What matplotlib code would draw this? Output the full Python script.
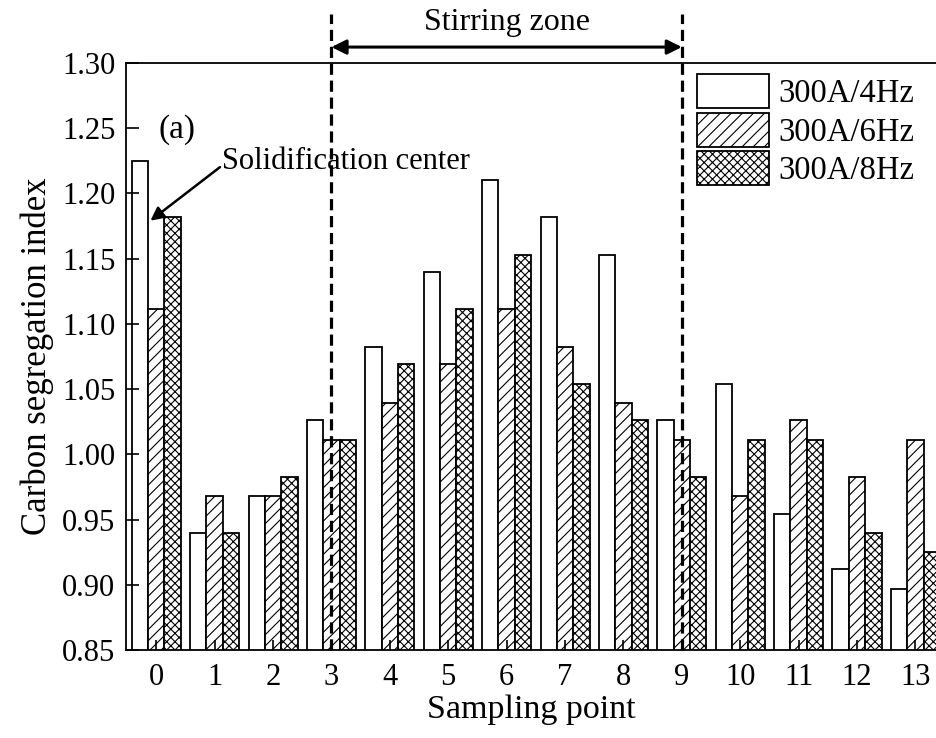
import matplotlib as mpl
import matplotlib.pyplot as plt
import numpy as np

mpl.use("Agg")

# sampling points and carbon segregation index per stirring setting
points = list(range(14))
labels = ["300A/4Hz", "300A/6Hz", "300A/8Hz"]
seg_4hz = [1.225, 0.940, 0.968, 1.026, 1.082, 1.140, 1.210, 1.182, 1.153, 1.026, 1.054, 0.954, 0.912, 0.897]
seg_6hz = [1.111, 0.968, 0.968, 1.011, 1.039, 1.069, 1.111, 1.082, 1.039, 1.011, 0.968, 1.026, 0.983, 1.011]
seg_8hz = [1.182, 0.940, 0.983, 1.011, 1.069, 1.111, 1.153, 1.054, 1.026, 0.983, 1.011, 1.011, 0.940, 0.925]
yticks = [0.85, 0.90, 0.95, 1.00, 1.05, 1.10, 1.15, 1.20, 1.25, 1.30]
zone_start, zone_end = 3, 9

plt.rcParams["font.family"] = ["Liberation Serif", "DejaVu Serif"]
plt.rcParams["hatch.linewidth"] = 0.8

fig = plt.figure(figsize=(9.37, 7.38), dpi=100)
ax = fig.add_axes([0.135, 0.119, 0.865, 0.796])

x = np.arange(len(points))
w = 0.28
style = dict(edgecolor="black", linewidth=1.3)
ax.bar(x - w, seg_4hz, w, color="white", label=labels[0], **style)
ax.bar(x, seg_6hz, w, color="white", hatch="///", label=labels[1], **style)
ax.bar(x + w, seg_8hz, w, color="white", hatch="xxxx", label=labels[2], **style)

ax.set_xlim(-0.51, 13.37)
ax.set_ylim(0.85, 1.30)
ax.set_yticks(yticks)
ax.set_yticklabels([f"{v:.2f}" for v in yticks])
ax.set_xticks(x)
ax.set_xticklabels([str(p) for p in points])
ax.tick_params(axis="y", direction="in", length=9, width=1.2, labelsize=22, pad=8)
ax.tick_params(axis="x", direction="in", length=7, width=1.2, labelsize=22, pad=9)
ax.spines["right"].set_visible(False)
for s in ("left", "bottom", "top"):
    ax.spines[s].set_linewidth(1.3)

ax.set_xlabel("Sampling point", fontsize=24.5, labelpad=2)
ax.set_ylabel("Carbon segregation index", fontsize=25, labelpad=6)

# stirring zone boundaries
for xv in (zone_start, zone_end):
    ax.plot([xv, xv], [0.85, 1.337], color="black", lw=2.3,
            linestyle=(0, (3.5, 1.8)), clip_on=False, zorder=5)
ax.annotate("", xy=(zone_start, 1.312), xytext=(zone_end, 1.312),
            xycoords="data", annotation_clip=False,
            arrowprops=dict(arrowstyle="<|-|>", color="black", lw=2.2,
                            mutation_scale=22, shrinkA=0, shrinkB=0))
ax.text((zone_start + zone_end) / 2, 1.331, "Stirring zone", ha="center",
        va="center", fontsize=23, clip_on=False)

ax.text(0.04, 1.249, "(a)", ha="left", va="center", fontsize=24)
ax.text(1.13, 1.224, "Solidification center", ha="left", va="center", fontsize=22)
ax.annotate("", xy=(-0.1, 1.179), xytext=(1.09, 1.22),
            arrowprops=dict(arrowstyle="-|>", color="black", lw=1.8,
                            mutation_scale=20, shrinkA=0, shrinkB=0))

ax.legend(loc="upper left", bbox_to_anchor=(0.704, 0.98), frameon=False,
          fontsize=23.5, handlelength=2.2, handleheight=1.22, labelspacing=0.1,
          handletextpad=0.3, borderpad=0, borderaxespad=0)

fig.savefig("out.png", dpi=100)
